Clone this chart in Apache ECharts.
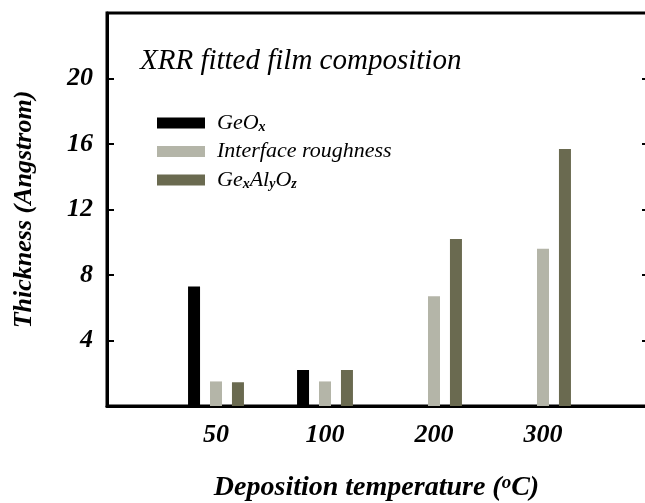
<!DOCTYPE html>
<html>
<head>
<meta charset="utf-8">
<script src="https://cdn.jsdelivr.net/npm/echarts@6/dist/echarts.min.js"></script>
<style>
  html, body { margin: 0; padding: 0; background: #ffffff; }
  #chart { width: 645px; height: 503px; }
</style>
</head>
<body>
<div id="chart"></div>
<script>
// Deposition temperatures (°C) and fitted layer thicknesses (Å)
const temperatures = ['50', '100', '200', '300'];
const geOx = [7.3, 2.2, null, null];
const interfaceRoughness = [1.5, 1.5, 6.7, 9.6];
const geAlO = [1.45, 2.2, 10.2, 15.7];
const yTickLabels = [4, 8, 12, 16, 20];

const seriesNames = ['GeOx', 'Interface roughness', 'GexAlyOz'];
const seriesColors = ['#000000', '#b4b5a8', '#6a6a50'];

// Empty slots on both sides keep the groups off the frame
const axisCategories = [''].concat(temperatures, ['']);
const pad = arr => ['-'].concat(arr.map(v => (v == null ? '-' : v)), ['-']);

const serif = 'Liberation Serif';

const legendLabels = {
  'GeOx': '{m|GeO}{s|x}',
  'Interface roughness': '{m|Interface roughness}',
  'GexAlyOz': '{m|Ge}{s|x}{m|Al}{s|y}{m|O}{s|z}'
};

const chart = echarts.init(document.getElementById('chart'), null, { renderer: 'canvas' });

chart.setOption({
  backgroundColor: '#ffffff',
  animation: false,
  title: {
    text: 'XRR fitted film composition',
    left: 135,
    top: 42,
    textStyle: {
      fontFamily: serif,
      fontStyle: 'italic',
      fontWeight: 'normal',
      fontSize: 29,
      color: '#000000'
    }
  },
  legend: {
    orient: 'vertical',
    left: 152,
    top: 107,
    itemWidth: 48,
    itemHeight: 11,
    itemGap: 6.5,
    icon: 'rect',
    data: seriesNames,
    formatter: name => legendLabels[name],
    textStyle: {
      padding: [0, 0, 0, 7],
      rich: {
        m: {
          fontFamily: serif,
          fontStyle: 'italic',
          fontSize: 22,
          lineHeight: 22,
          color: '#000000'
        },
        s: {
          fontFamily: serif,
          fontStyle: 'italic',
          fontWeight: 'bold',
          fontSize: 14,
          lineHeight: 4,
          verticalAlign: 'bottom',
          color: '#000000'
        }
      }
    }
  },
  grid: {
    left: 107,
    width: 545,
    top: 13,
    bottom: 97,
    containLabel: false,
    outerBoundsMode: 'none',
    show: true,
    borderColor: '#000000',
    borderWidth: 3,
    backgroundColor: 'transparent'
  },
  xAxis: {
    type: 'category',
    data: axisCategories,
    boundaryGap: false,
    axisLine: { show: true, lineStyle: { color: '#000000', width: 3 } },
    axisTick: { show: false },
    splitLine: { show: false },
    axisLabel: {
      margin: 16,
      fontFamily: serif,
      fontStyle: 'italic',
      fontWeight: 'bold',
      fontSize: 26,
      color: '#000000'
    },
    name: 'Deposition temperature ({o|o}C)',
    nameLocation: 'middle',
    nameGap: 68,
    nameTextStyle: {
      fontFamily: serif,
      fontStyle: 'italic',
      fontWeight: 'bold',
      fontSize: 28,
      lineHeight: 28,
      color: '#000000',
      padding: [0, 6, 0, 0],
      rich: {
        o: {
          fontFamily: serif,
          fontStyle: 'italic',
          fontWeight: 'bold',
          fontSize: 19,
          lineHeight: 8,
          verticalAlign: 'top',
          color: '#000000'
        }
      }
    }
  },
  yAxis: [
    {
      type: 'value',
      min: 0,
      max: 24,
      interval: 4,
      position: 'left',
      axisLine: { show: true, lineStyle: { color: '#000000', width: 3 } },
      axisTick: { show: true, inside: true, length: 7, lineStyle: { color: '#000000', width: 2 } },
      splitLine: { show: false },
      axisLabel: {
        margin: 14,
        fontFamily: serif,
        fontStyle: 'italic',
        fontWeight: 'bold',
        fontSize: 26,
        color: '#000000',
        formatter: v => (yTickLabels.indexOf(v) >= 0 ? String(v) : '')
      },
      name: 'Thickness (Angstrom)',
      nameLocation: 'middle',
      nameGap: 70,
      nameTextStyle: {
        fontFamily: serif,
        fontStyle: 'italic',
        fontWeight: 'bold',
        fontSize: 26,
        color: '#000000'
      }
    },
    {
      type: 'value',
      min: 0,
      max: 24,
      interval: 4,
      position: 'right',
      axisLine: { show: true, lineStyle: { color: '#000000', width: 3 } },
      axisTick: { show: true, inside: true, length: 10, lineStyle: { color: '#000000', width: 2 } },
      splitLine: { show: false },
      axisLabel: { show: false }
    }
  ],
  series: [
    {
      name: seriesNames[0],
      type: 'bar',
      data: pad(geOx),
      barWidth: 12,
      barGap: '83%',
      itemStyle: { color: seriesColors[0] }
    },
    {
      name: seriesNames[1],
      type: 'bar',
      data: pad(interfaceRoughness),
      barWidth: 12,
      barGap: '83%',
      itemStyle: { color: seriesColors[1] }
    },
    {
      name: seriesNames[2],
      type: 'bar',
      data: pad(geAlO),
      barWidth: 12,
      barGap: '83%',
      itemStyle: { color: seriesColors[2] }
    }
  ]
});
</script>
</body>
</html>
